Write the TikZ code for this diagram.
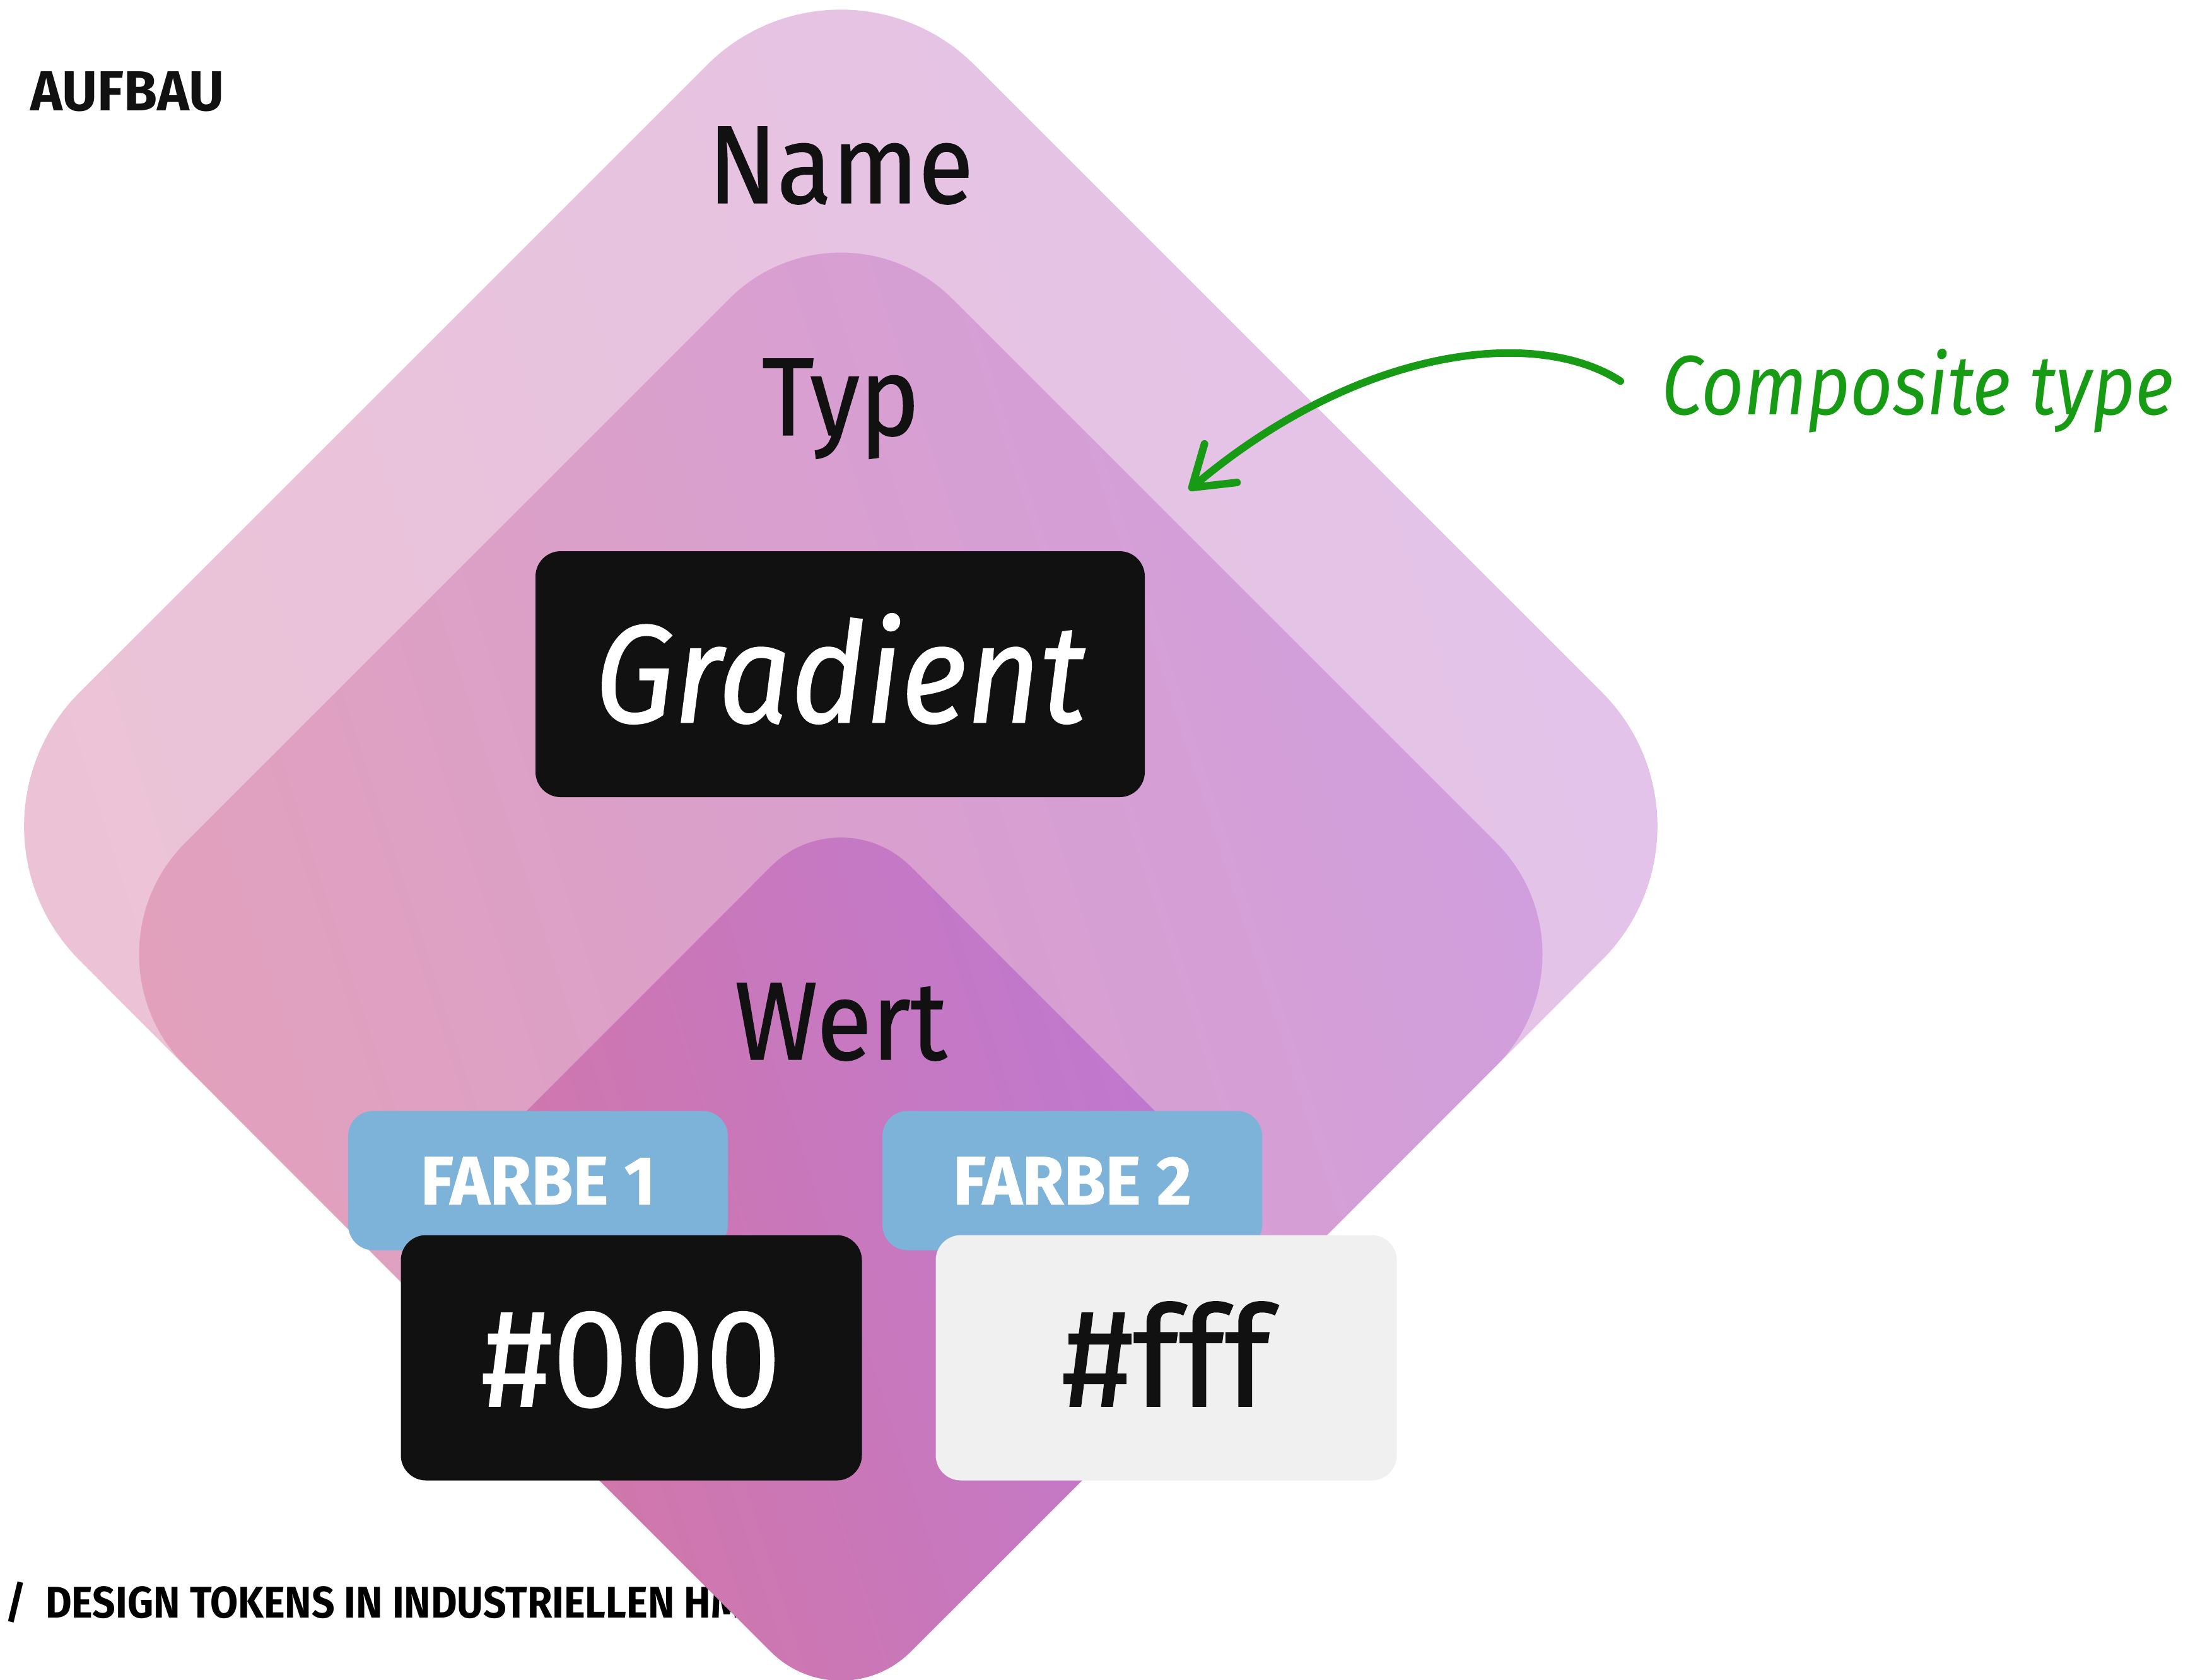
\documentclass[tikz,border=0pt]{standalone}
\usepackage{fontspec}
\setmainfont{Fira Sans}
\newfontfamily\tokfont{Fira Sans}[FakeStretch=0.91, FakeBold=0.8]
\newfontfamily\wertfont{Fira Sans}[FakeStretch=0.98, FakeBold=0.8]
\newfontfamily\titlefont{Fira Sans}[FakeStretch=0.96]
\newfontfamily\footfont{Fira Sans}[FakeStretch=0.91]
\newfontfamily\notefont{Fira Sans}[FakeStretch=0.88]
\usetikzlibrary{arrows.meta}

\definecolor{tokblack}{HTML}{111111}
\definecolor{tokwhite}{HTML}{F0F0F0}
\definecolor{tokblue}{HTML}{7DB2D9}
\definecolor{tokgreen}{HTML}{189B14}
\definecolor{nameL}{HTML}{EDC3D4}
\definecolor{nameR}{HTML}{E2C3EB}
\definecolor{typL}{HTML}{E3A0B9}
\definecolor{typR}{HTML}{D09FE0}
\definecolor{wertL}{HTML}{D477A3}
\definecolor{wertR}{HTML}{BD78D5}

\begin{document}
\begin{tikzpicture}[
  layer/.style 2 args={top color=#2, bottom color=#1, shading angle=-72},
  label/.style={font=\tokfont\fontsize{50}{60}\selectfont, text=tokblack, anchor=base, inner sep=0pt},
  tokbox/.style={rounded corners=0.4cm, inner sep=0pt, text depth=0pt},
  farbe/.style={tokbox, fill=tokblue, text=white, minimum width=6.02cm, minimum height=2.21cm,
    text height=0.76cm, font=\wertfont\bfseries\fontsize{31}{36}\selectfont},
  wert/.style={tokbox, minimum width=7.31cm, minimum height=3.89cm,
    text height=1.54cm, font=\wertfont\fontsize{63}{70}\selectfont},
  pencil/.style={draw=tokgreen, line width=3.4pt, line cap=round,
    -{Straight Barb[length=0.6cm, width=0.8cm, round]}}
]

\useasboundingbox (0,0) rectangle (34.88,-26.63);

% Footer (lies under the diamonds)
\node[font=\footfont\bfseries\fontsize{20}{24}\selectfont, anchor=base west, inner sep=0pt]
  (footer) at (0.08,-25.65) {/\ \ DESIGN TOKENS IN INDUSTRIELLEN HMI};

% Diamonds
\shade[layer={nameL}{nameR}, rounded corners=3cm]
  (6.22,-20.20) -- (-0.86,-13.10) -- (13.33,1.09) -- (27.52,-13.10) -- (13.33,-27.30) -- cycle;
\shade[layer={typL}{typR}, rounded corners=2.5cm]
  (7.25,-21.22) -- (1.17,-15.13) -- (13.33,-2.97) -- (25.49,-15.13) -- (13.33,-27.30) -- cycle;
\shade[layer={wertL}{wertR}, rounded corners=1.57cm]
  (9.66,-23.63) -- (6.00,-19.97) -- (13.33,-12.63) -- (20.66,-19.97) -- (13.33,-27.30) -- cycle;

% Labels
\node[label] (name) at (13.33,-3.22) {Name};
\node[label] (typ) at (13.33,-6.90) {Typ};
\node[label] (wert) at (13.33,-16.80) {Wert};

% Type
\node[tokbox, fill=tokblack, text=white, minimum width=9.66cm, minimum height=3.90cm,
  text height=1.53cm, font=\tokfont\itshape\fontsize{63}{70}\selectfont]
  (gradient) at (13.32,-10.69) {Gradient};

% Values
\node[farbe] (farbe1) at (8.53,-18.72) {FARBE 1};
\node[farbe] (farbe2) at (17.00,-18.72) {FARBE 2};
\node[wert, fill=tokblack, text=white] (black) at (10.01,-21.53) {\#000};
\node[wert, fill=tokwhite, text=tokblack] (white) at (18.49,-21.53) {\#fff};

% Title
\node[font=\titlefont\bfseries\fontsize{25.5}{30}\selectfont, text=tokblack, anchor=base west, inner sep=0pt]
  (title) at (0.48,-1.75) {AUFBAU};

% Note
\node[font=\notefont\itshape\fontsize{38}{44}\selectfont, text=tokgreen, anchor=base west, inner sep=0pt]
  (ctype) at (26.34,-6.57) {Composite type};
\coordinate (tip) at (18.85,-7.77);
\draw[pencil] ([xshift=-6.5mm, yshift=1.5mm]ctype.west) .. controls (24.40,-5.20) and (21.60,-5.45) .. (tip);

\end{tikzpicture}
\end{document}
